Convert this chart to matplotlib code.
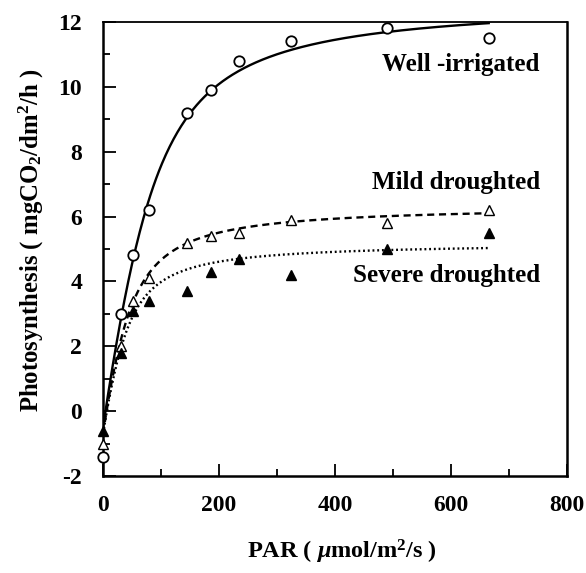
import numpy as np
import matplotlib
matplotlib.use("Agg")
import matplotlib.pyplot as plt
from matplotlib.ticker import MultipleLocator

plt.rcParams["font.family"] = ["Liberation Serif", "DejaVu Serif"]
plt.rcParams["font.weight"] = "bold"
plt.rcParams["mathtext.fontset"] = "custom"
plt.rcParams["mathtext.rm"] = "Liberation Serif:bold"
plt.rcParams["mathtext.bf"] = "Liberation Serif:bold"
plt.rcParams["mathtext.it"] = "Liberation Serif:italic:bold"
plt.rcParams["axes.unicode_minus"] = False

# Measured light-response data
par = [0, 31, 52, 79, 145, 186, 234, 324, 490, 665]
well_irrigated = [-1.4, 3.0, 4.8, 6.2, 9.2, 9.9, 10.8, 11.4, 11.8, 11.5]
mild_droughted = [-1.0, 2.0, 3.4, 4.1, 5.2, 5.4, 5.5, 5.9, 5.8, 6.2]
severe_droughted = [-0.6, 1.8, 3.1, 3.4, 3.7, 4.3, 4.7, 4.2, 5.0, 5.5]

# Non-rectangular hyperbola fits: (alpha, Pmax, theta, Rd)
fit_well = (0.120, 13.18, 0.69, 0.50)
fit_mild = (0.120, 7.05, 0.61, 0.70)
fit_severe = (0.110, 5.90, 0.65, 0.70)
par_fit_max = 665


def light_response(I, alpha, pmax, theta, rd):
    s = alpha * I + pmax
    return (s - np.sqrt(s ** 2 - 4 * theta * alpha * I * pmax)) / (2 * theta) - rd


fig = plt.figure(figsize=(5.86, 5.73), dpi=100)
ax = fig.add_axes([0.1758, 0.1693, 0.7918, 0.7923])

I = np.linspace(0, par_fit_max, 400)
ax.plot(I, light_response(I, *fit_well), color="black", lw=1.7, ls="-")
ax.plot(I, light_response(I, *fit_mild), color="black", lw=1.7, ls=(0, (3, 2)))
ax.plot(I, light_response(I, *fit_severe), color="black", lw=1.7, ls=(0, (0.8, 1.2)))

ms = 7.5
ax.plot(par, well_irrigated, ls="none", marker="o", ms=ms, mfc="white",
        mec="black", mew=1.3, clip_on=False, zorder=3)
ax.plot(par, mild_droughted, ls="none", marker="^", ms=ms, mfc="white",
        mec="black", mew=1.0, clip_on=False, zorder=3)
ax.plot(par, severe_droughted, ls="none", marker="^", ms=ms, mfc="black",
        mec="black", mew=1.0, clip_on=False, zorder=4)

ax.set_xlim(0, 800)
ax.set_ylim(-2, 12)
ax.xaxis.set_major_locator(MultipleLocator(200))
ax.xaxis.set_minor_locator(MultipleLocator(100))
ax.yaxis.set_major_locator(MultipleLocator(2))
ax.yaxis.set_minor_locator(MultipleLocator(1))
ax.tick_params(which="both", direction="in", width=1.3, labelsize=17, pad=14)
ax.tick_params(which="major", length=9)
ax.tick_params(which="minor", length=5)
ax.tick_params(axis="y", pad=15)
for lab in ax.get_xticklabels() + ax.get_yticklabels():
    lab.set_fontweight("bold")
for side in ["left", "bottom", "right"]:
    ax.spines[side].set_linewidth(1.8)
ax.spines["top"].set_linewidth(1.3)

ax.text(753, 10.7, "Well -irrigated", ha="right", va="center", fontsize=18, fontweight="bold")
ax.text(753, 7.04, "Mild droughted", ha="right", va="center", fontsize=18, fontweight="bold")
ax.text(753, 4.17, "Severe droughted", ha="right", va="center", fontsize=18, fontweight="bold")

fig.text(0.584, 0.037, r"PAR ( $\mathit{\mu}$mol/m$^{2}$/s )", ha="center", va="center",
         fontsize=17.5, fontweight="bold")
fig.text(0.053, 0.58, r"Photosynthesis ( mgCO$_{2}$/dm$^{2}$/h )", ha="center", va="center",
         rotation=90, fontsize=17.8, fontweight="bold")

fig.savefig("out.png", dpi=100)
